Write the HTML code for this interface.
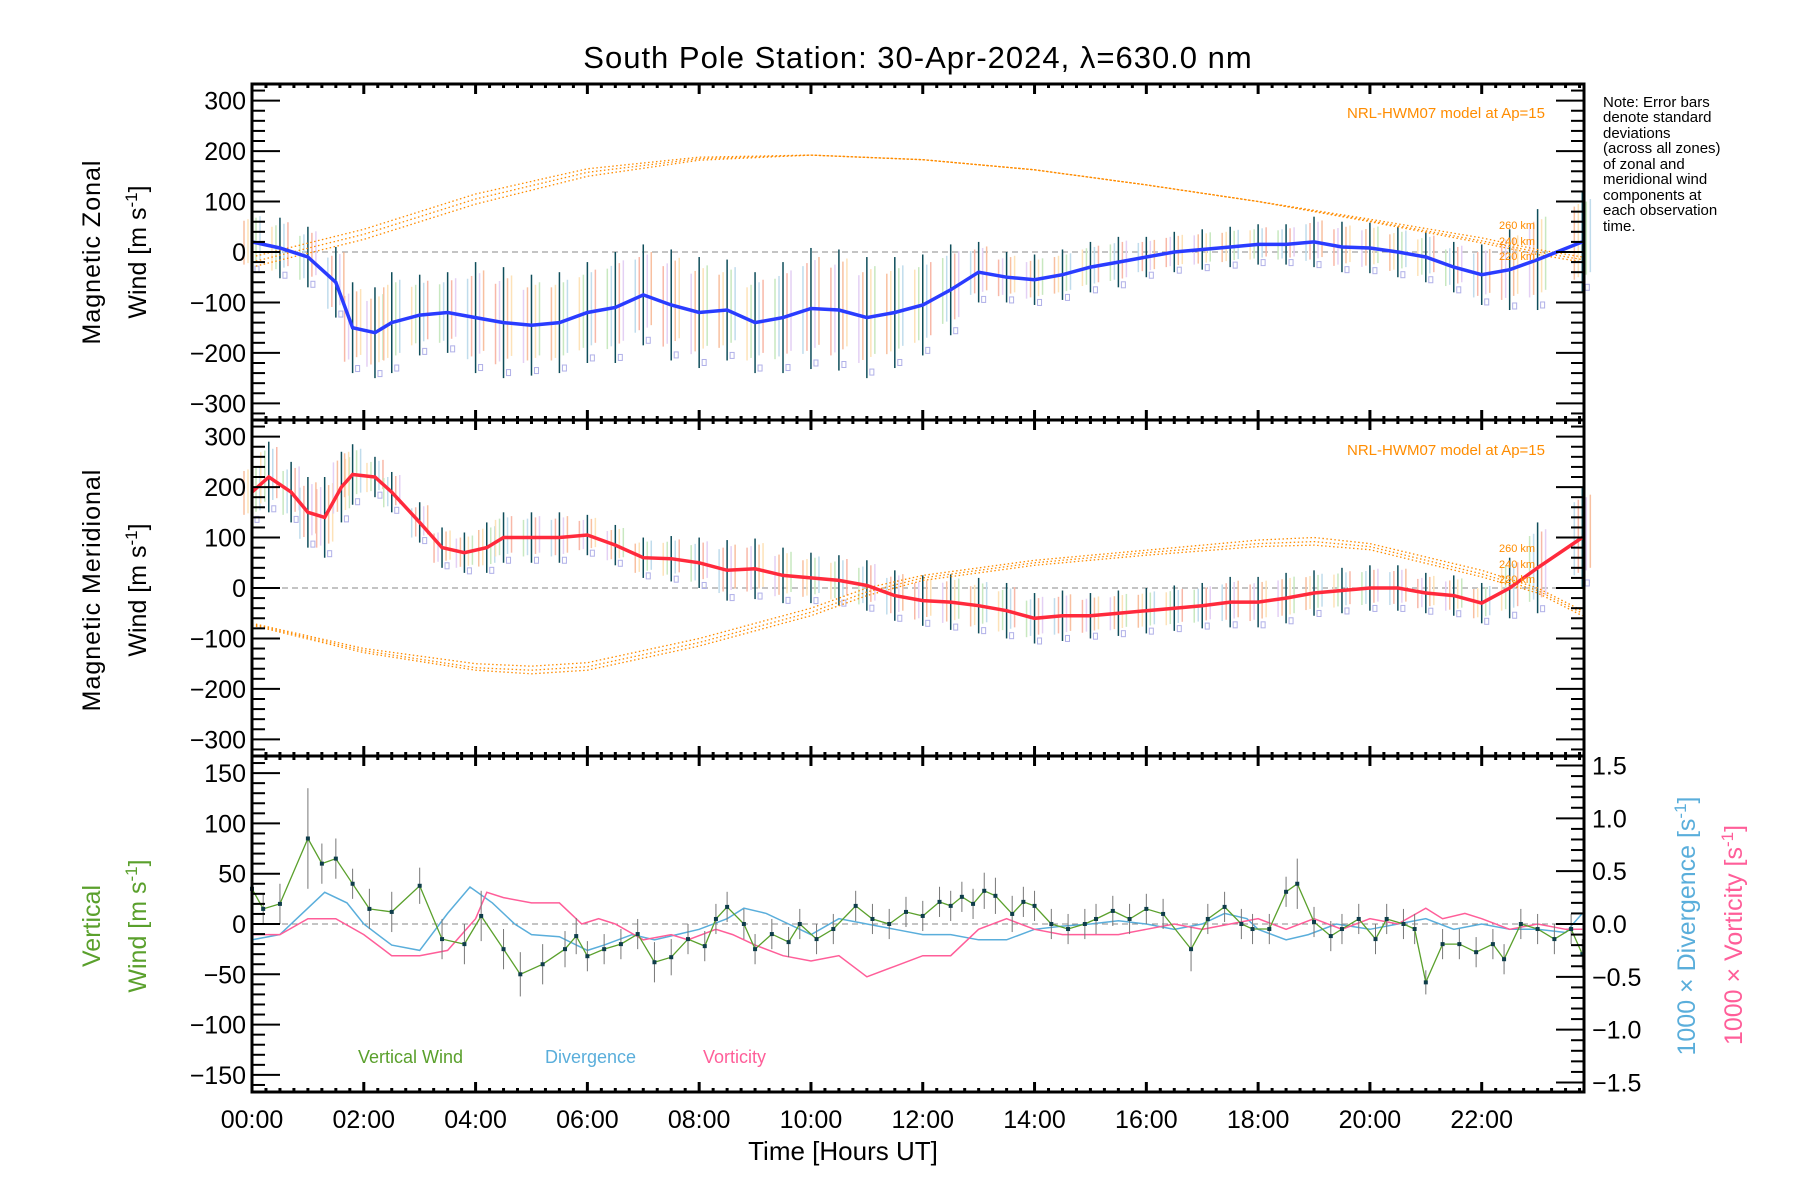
<!DOCTYPE html>
<html><head><meta charset="utf-8"><style>
html,body{margin:0;padding:0;background:#fff}
svg{display:block;font-family:"Liberation Sans",sans-serif}
</style></head><body>
<svg id="chart" width="1800" height="1200" viewBox="0 0 1800 1200" xmlns="http://www.w3.org/2000/svg">
<text x="918" y="68" font-size="31" text-anchor="middle" letter-spacing="1">South Pole Station: 30-Apr-2024, λ=630.0 nm</text>
<g id="layer"></g>
</svg>
<script>
// ---- data ----
const zonalT = [0,0.5,1,1.5,1.8,2.2,2.5,3,3.5,4,4.5,5,5.5,6,6.5,7,7.5,8,8.5,9,9.5,10,10.5,11,11.5,12,12.5,13,13.5,14,14.5,15,15.5,16,16.5,17,17.5,18,18.5,19,19.5,20,20.5,21,21.5,22,22.5,23,23.8];
const zonalV = [20,8,-10,-60,-150,-160,-140,-125,-120,-130,-140,-145,-140,-120,-110,-85,-105,-120,-115,-140,-130,-112,-115,-130,-120,-105,-75,-40,-50,-55,-45,-30,-20,-10,0,5,10,15,15,20,10,8,0,-10,-30,-45,-35,-15,20];
const zonalErr = [60,60,60,70,90,90,100,80,80,110,110,100,100,100,110,100,110,110,100,100,110,120,120,120,110,100,90,60,50,50,50,50,50,40,40,40,40,40,40,50,50,50,50,50,50,60,80,100,100];
const meridT = [0,0.3,0.7,1,1.3,1.6,1.8,2.2,2.5,3,3.4,3.8,4.2,4.5,5,5.5,6,6.5,7,7.5,8,8.5,9,9.5,10,10.5,11,11.5,12,12.5,13,13.5,14,14.5,15,15.5,16,16.5,17,17.5,18,18.5,19,19.5,20,20.5,21,21.5,22,22.5,23,23.8];
const meridV = [190,220,190,150,140,200,225,220,190,130,80,70,80,100,100,100,105,85,60,58,50,35,38,25,20,15,5,-15,-25,-28,-35,-45,-60,-55,-55,-50,-45,-40,-35,-28,-28,-20,-10,-5,0,0,-10,-15,-30,0,40,100];
const meridErr = [60,70,60,70,80,70,60,40,40,40,40,40,50,50,50,50,40,40,40,45,50,60,60,55,50,50,50,50,50,55,55,55,50,50,45,45,45,45,45,50,50,50,45,45,45,45,40,40,40,60,90,100];
const hwmT = [0,2,4,6,8,10,12,14,16,18,20,22,23,23.8];
const hwmZ260 = [-10,45,115,165,188,192,183,163,133,100,65,28,5,-10];
const hwmZ240 = [-20,35,105,158,185,192,183,163,133,100,62,22,0,-15];
const hwmZ220 = [-30,25,95,150,182,192,183,163,133,100,60,18,-5,-20];
const hwmMT = [0,2,4,5,6,8,10,11,12,14,16,18,19,20,22,23,23.8];
const hwmM260 = [-70,-120,-150,-155,-148,-100,-40,0,25,55,75,95,100,88,35,0,-45];
const hwmM240 = [-72,-124,-158,-163,-156,-108,-48,-8,20,50,70,88,92,82,28,-5,-50];
const hwmM220 = [-74,-128,-163,-170,-163,-115,-55,-15,15,45,65,82,85,76,22,-10,-55];
const vertT = [0,0.2,0.5,1,1.25,1.5,1.8,2.1,2.5,3,3.4,3.8,4.1,4.5,4.8,5.2,5.6,5.8,6,6.3,6.6,6.9,7.2,7.5,7.8,8.1,8.3,8.5,8.8,9,9.3,9.6,9.8,10.1,10.4,10.8,11.1,11.4,11.7,12,12.3,12.5,12.7,12.9,13.1,13.3,13.6,13.8,14,14.3,14.6,14.9,15.1,15.4,15.7,16,16.3,16.8,17.1,17.4,17.7,17.9,18.2,18.5,18.7,19,19.3,19.5,19.8,20.1,20.3,20.6,20.8,21,21.3,21.6,21.9,22.2,22.4,22.7,23,23.3,23.6,23.8];
const vertV = [35,15,20,85,60,65,40,15,12,38,-15,-20,8,-25,-50,-40,-25,-12,-32,-25,-20,-10,-38,-33,-15,-22,5,17,0,-25,-10,-18,0,-15,-5,18,5,0,12,8,22,18,27,20,33,28,10,22,18,0,-5,0,5,13,5,15,10,-25,5,17,0,-5,-5,32,40,2,-12,-5,5,-15,5,0,-5,-58,-20,-20,-28,-20,-35,0,-5,-15,-5,-30];
const vertErr = [20,15,20,50,20,20,15,20,20,18,20,20,25,20,22,20,18,18,15,15,15,15,20,18,15,15,15,15,15,15,15,15,15,15,15,15,15,15,15,15,15,15,15,15,18,18,18,15,15,15,15,15,15,15,15,15,15,22,15,15,15,15,15,15,25,15,15,15,15,15,15,15,15,12,15,15,15,15,15,15,15,15,15,15];
const divT = [0,0.5,0.8,1.3,1.7,2,2.5,3,3.5,3.9,4.3,4.7,5,5.5,6,6.3,6.8,7.2,7.6,8,8.5,8.8,9.2,9.6,10,10.5,11,11.5,12,12.5,13,13.5,14,14.5,15,15.5,16,16.5,17,17.4,17.8,18,18.5,18.9,19.4,20,20.5,21,21.5,22,22.5,23,23.5,23.8];
const divV = [-0.15,-0.1,0.05,0.3,0.2,0,-0.2,-0.25,0.1,0.35,0.2,0,-0.1,-0.12,-0.25,-0.2,-0.1,-0.15,-0.1,-0.05,0.05,0.15,0.1,0,-0.1,0.05,0,-0.05,-0.1,-0.1,-0.15,-0.15,-0.05,-0.02,0,0.03,0,-0.05,0,0.1,0.05,-0.05,-0.15,-0.1,0,-0.05,0,0.05,-0.05,0,-0.05,-0.05,-0.08,0.1];
const vorT = [0,0.5,1,1.5,2,2.5,3,3.5,4,4.2,4.5,5,5.5,5.9,6.2,6.5,7,7.5,7.8,8.3,8.6,9,9.5,10,10.5,11,11.5,12,12.5,13,13.5,14,14.5,15,15.5,16,16.5,17,17.5,18,18.5,19,19.5,20,20.5,21,21.3,21.7,22,22.5,23,23.5,23.8];
const vorV = [-0.1,-0.1,0.05,0.05,-0.1,-0.3,-0.3,-0.25,0.05,0.3,0.25,0.2,0.2,0,0.05,0,-0.15,-0.1,-0.15,-0.05,-0.1,-0.2,-0.3,-0.35,-0.3,-0.5,-0.4,-0.3,-0.3,-0.05,0.05,-0.05,-0.1,-0.1,-0.1,-0.05,0,-0.05,0,0.05,-0.05,0.05,-0.05,0.05,0,0.15,0.05,0.1,0.05,-0.05,0,-0.05,-0.05];
const xTickLabels = ["00:00","02:00","04:00","06:00","08:00","10:00","12:00","14:00","16:00","18:00","20:00","22:00"];
const windTicks = [-300,-200,-100,0,100,200,300];
const vertTicks = [-150,-100,-50,0,50,100,150];
const rightTicks = [-1.5,-1.0,-0.5,0.0,0.5,1.0,1.5];

// ---- geometry ----
const L=252,R=1584,PX=(R-L)/23.83;
const X=h=>L+h*PX;
const panels=[{top:84,bot:420},{top:420,bot:756},{top:756,bot:1092}];
const Y1=v=>252-v*168/333, Y2=v=>588-v*168/333, Y3=v=>924-v*168/167, Y3r=v=>924-v*168/1.59;
const NS="http://www.w3.org/2000/svg";
const layer=document.getElementById('layer');
function mk(tag,attrs,parent){const e=document.createElementNS(NS,tag);for(const k in attrs)e.setAttribute(k,attrs[k]);(parent||layer).appendChild(e);return e;}
function pts(T,V,Y){return T.map((t,i)=>X(t).toFixed(1)+','+Y(V[i]).toFixed(1)).join(' ');}

const pastel=['#f8c0a0','#fde2b8','#c8e8c0','#c0dcec','#f8b8a8','#e4d0f4'];
function errBars(T,V,E,Y,name){
  T.forEach((t,i)=>{
    const x=X(t);
    [-8,-4,4,8].forEach((dx,k)=>{
      const b=mk('line',{x1:x+dx,x2:x+dx,y1:Y(V[i]+E[i]*(0.7+0.05*k)),y2:Y(V[i]-E[i]*(0.75-0.05*k)),stroke:pastel[(i+k)%pastel.length],'stroke-width':1.5});
      
      
    });
    const d=mk('line',{x1:x,x2:x,y1:Y(V[i]+E[i]),y2:Y(V[i]-E[i]),stroke:'#0e4d5a','stroke-width':1.5});
    
    
    const s=mk('rect',{x:x+3,y:Y(V[i]-E[i]*0.9)-3,width:4,height:6,fill:'none',stroke:'#b0b0e8','stroke-width':1});
    
    
  });
}
[Y1(0),Y2(0),Y3(0)].forEach(y=>{
  const z=mk('line',{x1:L,x2:R,y1:y,y2:y,stroke:'#888','stroke-width':1,'stroke-dasharray':'6,4'});
  
  
});
errBars(zonalT,zonalV,zonalErr,Y1,'zonal');
errBars(meridT,meridV,meridErr,Y2,'meridional');
[[hwmZ260,'260'],[hwmZ240,'240'],[hwmZ220,'220']].forEach(([a,n])=>{
  const p=mk('polyline',{points:pts(hwmT,a,Y1),fill:'none',stroke:'#ff8c00','stroke-width':1.3,'stroke-dasharray':'1.5,2.5'});
  
  
});
[[hwmM260,'260'],[hwmM240,'240'],[hwmM220,'220']].forEach(([a,n])=>{
  const p=mk('polyline',{points:pts(hwmMT,a,Y2),fill:'none',stroke:'#ff8c00','stroke-width':1.3,'stroke-dasharray':'1.5,2.5'});
  
  
});
const zl=mk('polyline',{points:pts(zonalT,zonalV,Y1),fill:'none',stroke:'#2a3cff','stroke-width':3.5});


const ml=mk('polyline',{points:pts(meridT,meridV,Y2),fill:'none',stroke:'#ff2a3c','stroke-width':3.5});


const dl=mk('polyline',{points:pts(divT,divV,Y3r),fill:'none',stroke:'#5aaedb','stroke-width':1.5});


const vl=mk('polyline',{points:pts(vorT,vorV,Y3r),fill:'none',stroke:'#ff5e99','stroke-width':1.5});


vertT.forEach((t,i)=>{
  const e=mk('line',{x1:X(t),x2:X(t),y1:Y3(vertV[i]+vertErr[i]),y2:Y3(vertV[i]-vertErr[i]),stroke:'#777','stroke-width':1});
  
  
});
const gl=mk('polyline',{points:pts(vertT,vertV,Y3),fill:'none',stroke:'#5aa02c','stroke-width':1.3});


vertT.forEach((t,i)=>{
  const c=mk('rect',{x:X(t)-2,y:Y3(vertV[i])-2,width:4,height:4,fill:'#0e3d4a'});
  
  
});
panels.forEach((p,pi)=>{
  const f=mk('rect',{x:L,y:p.top,width:R-L,height:p.bot-p.top,fill:'none',stroke:'#000','stroke-width':3});
  
  
  for(let q=0;q<=23.75*4;q++){
    const x=X(q/4), major=q%8===0;
    const len=major?10:4;
    mk('line',{x1:x,x2:x,y1:p.bot,y2:p.bot-len,stroke:'#000','stroke-width':3});
    mk('line',{x1:x,x2:x,y1:p.top,y2:p.top+len,stroke:'#000','stroke-width':3});
  }
});
function yAxis(Y,ticks,minorStep,lo,hi,side,fmt,name){
  for(let v=lo;v<=hi+1e-9;v+=minorStep){
    const y=Y(v); const isMaj=ticks.some(t=>Math.abs(t-v)<1e-6);
    const len=isMaj?28:13;
    if(side!=='right'){mk('line',{x1:L,x2:L+len,y1:y,y2:y,stroke:'#000','stroke-width':2});}
    if(side!=='left'){mk('line',{x1:R,x2:R-len,y1:y,y2:y,stroke:'#000','stroke-width':2});}
  }
  ticks.forEach(t=>{
    const tx=mk('text',{x:side==='right'?R+8:L-6,y:Y(t)+9,'font-size':25,'text-anchor':side==='right'?'start':'end'});
    tx.textContent=fmt(t);
    
    
  });
}
const fmtI=v=>(v<0?'\u2212'+(-v):''+v);
const fmtR=v=>(v<0?'\u2212'+(-v).toFixed(1):v.toFixed(1));
yAxis(Y1,windTicks,20,-320,320,'both',fmtI,'zonal-y');
yAxis(Y2,windTicks,20,-320,320,'both',fmtI,'meridional-y');
yAxis(Y3,vertTicks,10,-160,160,'left',fmtI,'vertical-y');
yAxis(Y3r,rightTicks,0.1,-1.5,1.5,'right',fmtR,'right-y');
xTickLabels.forEach((s,i)=>{
  const t=mk('text',{x:X(i*2),y:1128,'font-size':25,'text-anchor':'middle'});
  t.textContent=s;
  
  
});
</script>
<svg width="1800" height="1200" style="position:absolute;left:0;top:0" font-family="Liberation Sans, sans-serif">
<text x="843" y="1160" font-size="26" text-anchor="middle">Time [Hours UT]</text>
<text transform="translate(100,252) rotate(-90)" font-size="25" text-anchor="middle" letter-spacing="1">Magnetic Zonal</text>
<text transform="translate(146,252) rotate(-90)" font-size="25" text-anchor="middle">Wind [m s<tspan dy="-9" font-size="17">-1</tspan><tspan dy="9">]</tspan></text>
<text transform="translate(100,590) rotate(-90)" font-size="25" text-anchor="middle" letter-spacing="1">Magnetic Meridional</text>
<text transform="translate(146,590) rotate(-90)" font-size="25" text-anchor="middle">Wind [m s<tspan dy="-9" font-size="17">-1</tspan><tspan dy="9">]</tspan></text>
<text transform="translate(100,926) rotate(-90)" font-size="25" fill="#5aa02c" text-anchor="middle">Vertical</text>
<text transform="translate(146,926) rotate(-90)" font-size="25" fill="#5aa02c" text-anchor="middle">Wind [m s<tspan dy="-9" font-size="17">-1</tspan><tspan dy="9">]</tspan></text>
<text transform="translate(1695,926) rotate(-90)" font-size="25" fill="#5aaedb" text-anchor="middle">1000 × Divergence [s<tspan dy="-9" font-size="17">-1</tspan><tspan dy="9">]</tspan></text>
<text transform="translate(1742,935) rotate(-90)" font-size="25" fill="#ff5e99" text-anchor="middle">1000 × Vorticity [s<tspan dy="-9" font-size="17">-1</tspan><tspan dy="9">]</tspan></text>
<text x="358" y="1063" font-size="18" fill="#5aa02c">Vertical Wind</text>
<text x="545" y="1063" font-size="18" fill="#5aaedb">Divergence</text>
<text x="703" y="1063" font-size="18" fill="#ff5e99">Vorticity</text>
<text x="1545" y="118" font-size="15" fill="#ff8c00" text-anchor="end">NRL-HWM07 model at Ap=15</text>
<text x="1545" y="455" font-size="15" fill="#ff8c00" text-anchor="end">NRL-HWM07 model at Ap=15</text>
<g font-size="11" fill="#ff8c00"><text x="1499" y="229">260 km</text><text x="1499" y="245">240 km</text><text x="1499" y="260">220 km</text></g>
<g font-size="11" fill="#ff8c00"><text x="1499" y="552">260 km</text><text x="1499" y="568">240 km</text><text x="1499" y="583">220 km</text></g>
<g font-size="15">
<text x="1603" y="107">Note: Error bars</text><text x="1603" y="122">denote standard</text><text x="1603" y="138">deviations</text><text x="1603" y="153">(across all zones)</text><text x="1603" y="169">of zonal and</text><text x="1603" y="184">meridional wind</text><text x="1603" y="200">components at</text><text x="1603" y="215">each observation</text><text x="1603" y="231">time.</text></g>
</svg>
</body></html>
